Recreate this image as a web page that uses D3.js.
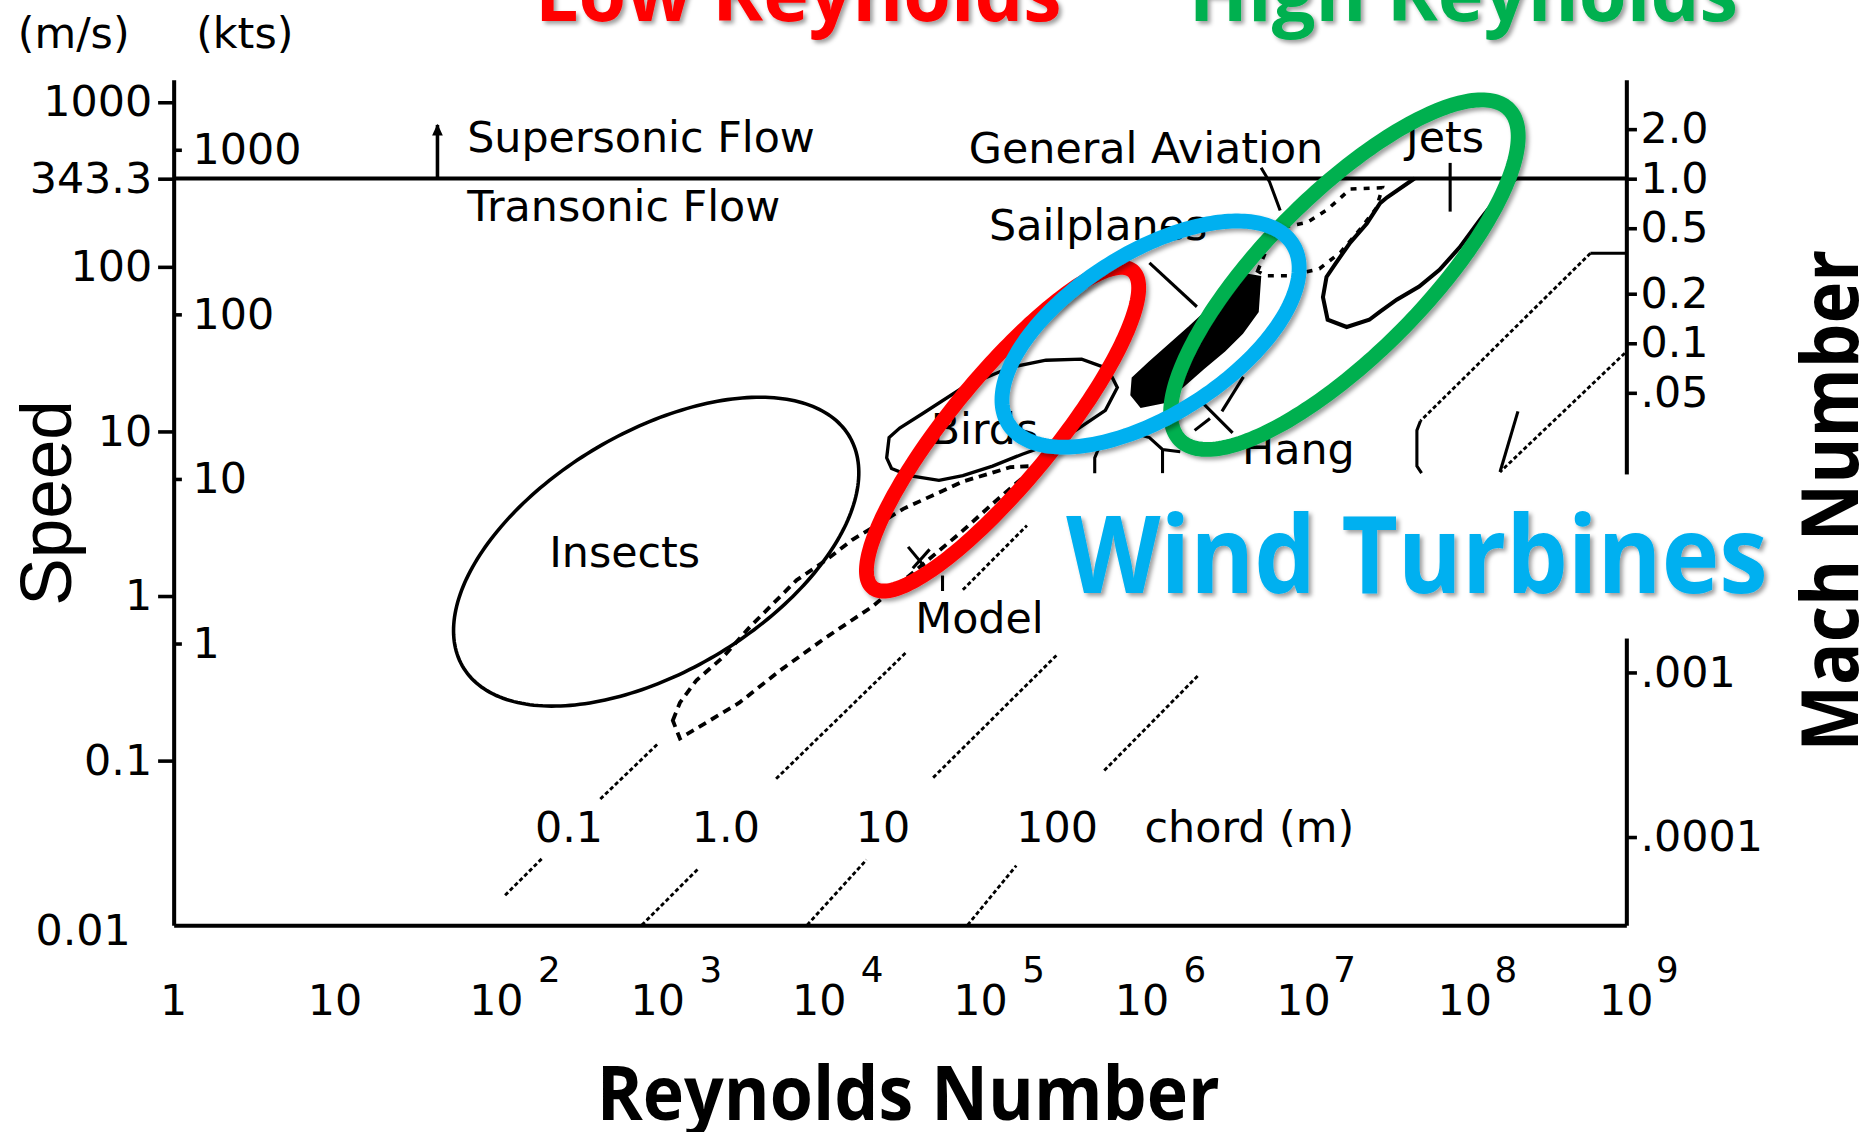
<!DOCTYPE html>
<html>
<head>
<meta charset="utf-8">
<script src="https://cdn.jsdelivr.net/npm/d3@7"></script>
<style>
html, body { margin: 0; padding: 0; background: #fff; overflow: hidden; }
svg { display: block; }
</style>
</head>
<body>
<svg id="chart" width="1864" height="1132" viewBox="0 0 1568 952" preserveAspectRatio="none"></svg>
<script>
// ---------------- DATA ----------------
const reynoldsTicks = [1, 1e1, 1e2, 1e3, 1e4, 1e5, 1e6, 1e7, 1e8, 1e9];
const reynoldsTickBase = ["1", "10", "10", "10", "10", "10", "10", "10", "10", "10"];
const reynoldsTickExp = ["", "", "2", "3", "4", "5", "6", "7", "8", "9"];

const speedTicksMs = [1000, 343.3, 100, 10, 1, 0.1, 0.01];
const speedTickLabelsMs = ["1000", "343.3", "100", "10", "1", "0.1", "0.01"];
const speedTicksKts = [1000, 100, 10, 1];
const speedTickLabelsKts = ["1000", "100", "10", "1"];
const machTicks = [2, 1, 0.5, 0.2, 0.1, 0.05, 0.001, 0.0001];
const machTickLabels = ["2.0", "1.0", "0.5", "0.2", "0.1", ".05", ".001", ".0001"];
const speedOfSound = 343.3;      // m/s  (Mach 1)
const knotInMs = 0.514444;       // 1 kt in m/s

// All shapes below: points as [log10(Reynolds), log10(speed m/s)]
// Chord-length guide lines (dotted), split where labels interrupt them
const chordNames = ["0.1", "1.0", "10", "100"];
const chordSegments = [
  [[[2.054, -1.819], [2.283, -1.595]], [[2.644, -1.234], [3.004, -0.895]]],
  [[[2.901, -2], [3.255, -1.653]], [[3.733, -1.111], [4.544, -0.338]], [[4.890, 0.037], [5.287, 0.428]]],
  [[[3.925, -2], [4.293, -1.603]], [[4.706, -1.104], [5.471, -0.360]]],
  [[[4.919, -2], [5.221, -1.639]], [[5.766, -1.061], [6.348, -0.483]]]
];
const chordLabelLogRe = [2.239, 3.211, 4.227, 5.221];
const chordUnitLabel = "chord (m)";
const chordUnitLogRe = 6.016;
const chordLabelLogV = -1.494;

// Insects region: [centre logRe, centre logV, semi-major (decades), semi-minor, tilt deg]
const insectsEllipse = [2.990, 0.269, 1.387, 0.730, 30];
const birdsOutline = [[4.418,0.839],[4.433,0.962],[4.499,1.020],[4.639,1.107],[4.890,1.266],[5.184,1.389],[5.405,1.432],[5.626,1.439],[5.788,1.381],[5.847,1.266],[5.773,1.128],[5.589,1.006],[5.405,0.912],[5.258,0.861],[5.074,0.789],[4.890,0.731],[4.742,0.702],[4.558,0.731],[4.448,0.774]];
const modelOutline = [[3.093,-0.757],[3.137,-0.649],[3.240,-0.512],[3.402,-0.374],[3.572,-0.187],[3.859,0.095],[4.043,0.218],[4.205,0.341],[4.521,0.529],[4.890,0.695],[5.184,0.782],[5.317,0.789],[5.302,0.753],[5.096,0.579],[4.875,0.384],[4.595,0.153],[4.330,-0.064],[4.043,-0.252],[3.756,-0.454],[3.505,-0.649],[3.137,-0.866]];
const sailplanesOutline = [[5.943,1.324],[6.046,1.417],[6.296,1.634],[6.510,1.829],[6.650,1.952],[6.731,1.938],[6.716,1.728],[6.620,1.598],[6.510,1.490],[6.377,1.381],[6.252,1.273],[6.142,1.179],[5.994,1.150],[5.935,1.222]];
const aviationOutline = [[6.716,1.974],[6.790,2.147],[6.878,2.241],[7.025,2.270],[7.150,2.349],[7.290,2.472],[7.489,2.480],[7.452,2.357],[7.356,2.234],[7.231,2.089],[7.099,1.988],[6.915,1.945],[6.768,1.945]];
const jetsOutline = [[7.688,2.536],[7.519,2.422],[7.475,2.386],[7.393,2.263],[7.290,2.147],[7.202,2.024],[7.143,1.938],[7.121,1.815],[7.150,1.678],[7.268,1.634],[7.408,1.678],[7.475,1.728],[7.578,1.800],[7.717,1.880],[7.843,1.981],[7.968,2.118],[8.093,2.284],[8.174,2.386],[8.314,2.536]];
// small solid strokes: leaders, X marks, hang-glider fragments, jets tick
const detailStrokes = [
  [[6.046,2.024],[6.340,1.757]],
  [[6.738,2.602],[6.790,2.516],[6.856,2.342]],
  [[6.340,1.208],[6.561,0.991]], [[6.326,1.006],[6.421,1.078]], [[6.628,1.331],[6.495,1.121]],
  [[5.759,0.962],[5.707,0.839],[5.707,0.746]],
  [[5.884,1.006],[6.046,0.962],[6.127,0.890],[6.237,0.876]], [[6.127,0.890],[6.127,0.746]],
  [[4.551,0.298],[4.698,0.124]], [[4.684,0.283],[4.580,0.168]], [[4.764,0.124],[4.764,0.030]],
  [[7.909,2.631],[7.909,2.335]],
  [[9.0,2.082],[8.778,2.082]],
  [[7.725,1.063],[7.703,1.006],[7.703,0.789],[7.732,0.746]],
  [[8.329,1.121],[8.218,0.753]]
];
const dottedGuides = [
  [[8.778,2.082],[7.725,1.063]],
  [[8.991,1.475],[8.218,0.753]]
];
const supersonicArrow = [[1.635, Math.log10(343.3)], [1.635, 2.862]];

const regionLabels = ["Supersonic Flow", "Transonic Flow", "General Aviation", "Jets", "Sailplanes", "Birds", "Hang", "Insects", "Model"];
const regionLabelLogRe = [1.819, 1.819, 4.927, 7.636, 5.052, 4.691, 6.620, 2.327, 4.595];
const regionLabelLogV = [2.696, 2.277, 2.631, 2.696, 2.162, 0.926, 0.803, 0.175, -0.223];

// Highlight rings (drawn in this order)
const highlightNames = ["High Reynolds", "Low Reynolds", "Wind Turbines"];
const highlightLogRe = [7.254, 5.136, 6.053];
const highlightLogV = [1.952, 1.013, 1.591];
const highlightSemiMajor = [1.431, 1.255, 1.036];
const highlightSemiMinor = [0.489, 0.321, 0.496];
const highlightTilt = [44.5, 50, 31.5];

// ---------------- RENDER ----------------
const FONT = "'DejaVu Sans', 'Liberation Sans', sans-serif";
const TITLE_FONT = "'Open Sans', 'Noto Sans', sans-serif";
const highlightColor = d3.scaleOrdinal().domain(highlightNames).range(["#00B050", "#FF0000", "#00B0F0"]);

const svg = d3.select("#chart");
const defs = svg.append("defs");
const f = defs.append("filter").attr("id", "shadow").attr("x", "-10%").attr("y", "-10%").attr("width", "125%").attr("height", "130%");
f.append("feDropShadow").attr("dx", 2.5).attr("dy", 2.5).attr("stdDeviation", 1.6).attr("flood-color", "#000").attr("flood-opacity", 0.38);

svg.append("rect").attr("width", 1568).attr("height", 952).attr("fill", "#fff");

const x = d3.scaleLog().domain([1, 1e9]).range([146, 1368]);
const y = d3.scaleLog().domain([0.01, 1370]).range([778, 67]);
const yKts = d3.scaleLog().domain(y.domain().map(v => v / knotInMs)).range(y.range());
const yMach = d3.scaleLog().domain(y.domain().map(v => v / speedOfSound)).range(y.range());

const lx = d => x(Math.pow(10, d[0]));
const ly = d => y(Math.pow(10, d[1]));
const line = d3.line().x(lx).y(ly);
const closed = d3.line().x(lx).y(ly).curve(d3.curveLinearClosed);

function ellipsePts(cx, cy, a, b, tilt) {
  const th = tilt * Math.PI / 180, pts = [];
  for (let i = 0; i < 240; i++) {
    const t = i / 240 * 2 * Math.PI;
    pts.push([cx + a * Math.cos(t) * Math.cos(th) - b * Math.sin(t) * Math.sin(th),
              cy + a * Math.cos(t) * Math.sin(th) + b * Math.sin(t) * Math.cos(th)]);
  }
  return pts;
}

function styleAxis(g) {
  g.attr("font-family", FONT).attr("font-size", 36);
  g.selectAll("text").attr("fill", "#000");
  g.selectAll(".tick line").attr("stroke", "#000").attr("stroke-width", 3);
  g.selectAll("path.domain").attr("stroke", "#000").attr("stroke-width", 3.4);
}

// Left axis (m/s)
const gLeft = svg.append("g").attr("transform", "translate(146,0)")
  .call(d3.axisLeft(y).tickValues(speedTicksMs).tickFormat((d, i) => speedTickLabelsMs[i])
    .tickSize(13).tickSizeOuter(0).tickPadding(5));
styleAxis(gLeft);
gLeft.selectAll(".tick").filter(d => d === 0.01).select("line").remove();
gLeft.selectAll(".tick").filter(d => d === 0.01).select("text").attr("dy", "0.45em").attr("dx", "-0.5em");

// kts ticks (right side of left axis)
const gKts = svg.append("g").attr("transform", "translate(146,0)")
  .call(d3.axisRight(yKts).tickValues(speedTicksKts).tickFormat((d, i) => speedTickLabelsKts[i])
    .tickSize(7).tickPadding(9));
styleAxis(gKts);
gKts.select("path.domain").remove();

// Mach axis (right)
const gMach = svg.append("g").attr("transform", "translate(1368,0)")
  .call(d3.axisRight(yMach).tickValues(machTicks).tickFormat((d, i) => machTickLabels[i])
    .tickSize(9).tickSizeOuter(0).tickPadding(3));
styleAxis(gMach);

// Bottom axis (Reynolds)
const gBottom = svg.append("g").attr("transform", "translate(0,778)")
  .call(d3.axisBottom(x).tickValues(reynoldsTicks).tickSize(0).tickSizeOuter(0).tickFormat(""));
styleAxis(gBottom);
const xl = svg.append("g").attr("font-family", FONT).attr("fill", "#000");
reynoldsTicks.forEach((v, i) => {
  xl.append("text").attr("x", x(v)).attr("y", 854).attr("text-anchor", "middle")
    .attr("font-size", 36).text(reynoldsTickBase[i]);
  if (reynoldsTickExp[i]) {
    const gap = (+reynoldsTickExp[i] >= 7) ? 2 : 12;
    xl.append("text").attr("x", x(v) + 23 + gap).attr("y", 826).attr("font-size", 30)
      .text(reynoldsTickExp[i]);
  }
});

// unit labels
svg.append("text").attr("x", 15).attr("y", 40).attr("font-family", FONT).attr("font-size", 36).text("(m/s)");
svg.append("text").attr("x", 165).attr("y", 40).attr("font-family", FONT).attr("font-size", 36).text("(kts)");

// Mach 1 line
svg.append("line").attr("x1", x(1)).attr("x2", x(1e9)).attr("y1", y(speedOfSound)).attr("y2", y(speedOfSound))
  .attr("stroke", "#000").attr("stroke-width", 3.4);

// Supersonic arrow
svg.append("path").attr("d", line(supersonicArrow)).attr("stroke", "#000").attr("stroke-width", 3).attr("fill", "none");
{
  const ax = lx(supersonicArrow[1]), ay = ly(supersonicArrow[1]);
  svg.append("path").attr("d", `M${ax - 4.5},${ay + 9}L${ax + 4.5},${ay + 9}L${ax},${ay - 1}Z`).attr("fill", "#000");
}

// Chord guide lines
const gChord = svg.append("g").attr("stroke", "#000").attr("stroke-width", 2.4).attr("fill", "none").attr("stroke-dasharray", "3.5 2.2");
chordSegments.forEach(segs => segs.forEach(s => gChord.append("path").attr("d", line(s))));
dottedGuides.forEach(s => gChord.append("path").attr("d", line(s)));

// Regions
svg.append("path").attr("d", closed(ellipsePts(...insectsEllipse)))
  .attr("fill", "none").attr("stroke", "#000").attr("stroke-width", 3);
svg.append("path").attr("d", closed(birdsOutline))
  .attr("fill", "none").attr("stroke", "#000").attr("stroke-width", 2.8);
svg.append("path").attr("d", closed(modelOutline))
  .attr("fill", "none").attr("stroke", "#000").attr("stroke-width", 3.2).attr("stroke-dasharray", "7 5");
svg.append("path").attr("d", closed(sailplanesOutline)).attr("fill", "#000").attr("stroke", "#000").attr("stroke-width", 2);
svg.append("path").attr("d", closed(aviationOutline))
  .attr("fill", "none").attr("stroke", "#000").attr("stroke-width", 3).attr("stroke-dasharray", "5 6");
svg.append("path").attr("d", line(jetsOutline))
  .attr("fill", "none").attr("stroke", "#000").attr("stroke-width", 3.4);
const gDet = svg.append("g").attr("stroke", "#000").attr("stroke-width", 2.6).attr("fill", "none");
detailStrokes.forEach(s => gDet.append("path").attr("d", line(s)));

// Region labels
const gLab = svg.append("g").attr("font-family", FONT).attr("font-size", 36).attr("fill", "#000");
regionLabels.forEach((t, i) => {
  gLab.append("text").attr("x", lx([regionLabelLogRe[i], 0])).attr("y", ly([0, regionLabelLogV[i]])).text(t);
});
chordNames.forEach((t, i) => {
  gLab.append("text").attr("x", lx([chordLabelLogRe[i], 0])).attr("y", ly([0, chordLabelLogV])).text(t);
});
gLab.append("text").attr("x", lx([chordUnitLogRe, 0])).attr("y", ly([0, chordLabelLogV])).text(chordUnitLabel);

// White panel behind "Wind Turbines"
svg.append("rect").attr("x", 875).attr("y", 399).attr("width", 630).attr("height", 138).attr("fill", "#fff");

// Highlight rings
highlightNames.forEach((n, i) => {
  svg.append("path")
    .attr("d", closed(ellipsePts(highlightLogRe[i], highlightLogV[i], highlightSemiMajor[i], highlightSemiMinor[i], highlightTilt[i])))
    .attr("fill", "none").attr("stroke", highlightColor(n)).attr("stroke-width", 12.5)
    .attr("filter", "url(#shadow)");
});

// Titles
function title(txt, x0, y0, size, len, color, shadow) {
  const t = svg.append("text").attr("x", x0).attr("y", y0).attr("font-family", TITLE_FONT)
    .attr("font-weight", 700).attr("font-size", size).attr("fill", color)
    .attr("textLength", len).attr("lengthAdjust", "spacingAndGlyphs").text(txt);
  if (shadow) t.attr("filter", "url(#shadow)");
  return t;
}
title("Low Reynolds", 450, 18, 67, 443, highlightColor("Low Reynolds"), true);
title("High Reynolds", 1000, 18, 67, 462, highlightColor("High Reynolds"), true);
title("Wind Turbines", 897, 499, 90, 590, highlightColor("Wind Turbines"), true);
title("Reynolds Number", 502, 942, 63, 524, "#000", false);

svg.append("text").attr("transform", "translate(1563,421) rotate(-90)").attr("text-anchor", "middle")
  .attr("font-family", TITLE_FONT).attr("font-weight", 700).attr("font-size", 66)
  .attr("textLength", 422).attr("lengthAdjust", "spacingAndGlyphs").text("Mach Number");
svg.append("text").attr("transform", "translate(60,423) rotate(-90)").attr("text-anchor", "middle")
  .attr("font-family", "'Liberation Sans', Arial, sans-serif").attr("font-size", 61)
  .attr("textLength", 173).attr("lengthAdjust", "spacingAndGlyphs").text("Speed");
</script>
</body>
</html>
